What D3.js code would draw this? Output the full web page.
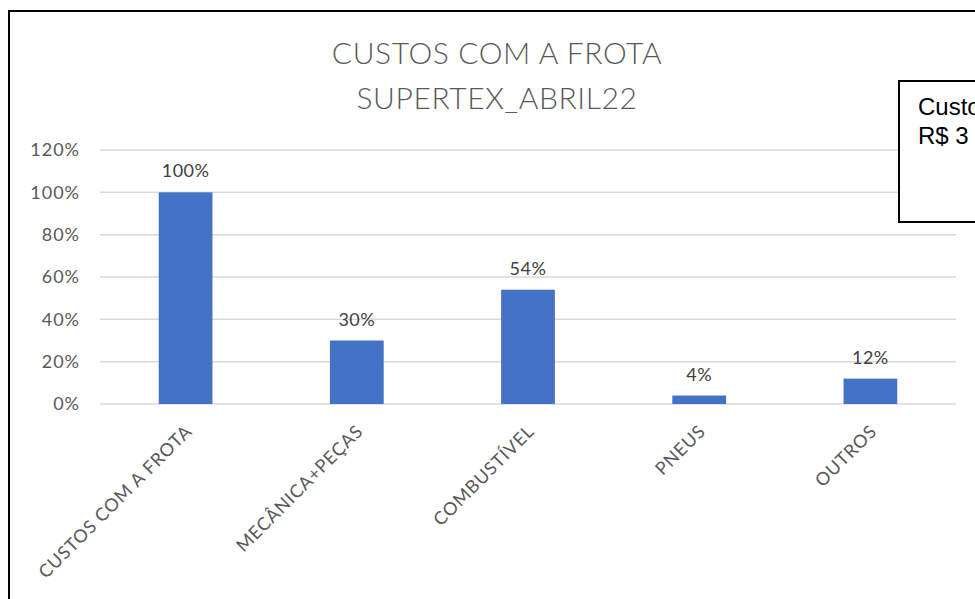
<!DOCTYPE html>
<html>
<head>
  <meta charset="utf-8">
  <title>Custos com a frota</title>
  <script src="https://d3js.org/d3.v7.min.js"></script>
  <style>
    body { margin: 0; background: #fff; }
    svg { display: block; font-family: Lato, "Open Sans", sans-serif; }
  </style>
</head>
<body>
  <script>
    // Data
    var categorias = ["CUSTOS COM A FROTA", "MECÂNICA+PEÇAS", "COMBUSTÍVEL", "PNEUS", "OUTROS"];
    var valores = [1.00, 0.30, 0.54, 0.04, 0.12];
    var ticksY = [0, 0.2, 0.4, 0.6, 0.8, 1.0, 1.2];
    var titulo = ["CUSTOS COM A FROTA", "SUPERTEX_ABRIL22"];
    var caixaTexto = ["Custos com a frota", "R$ 3"];

    var W = 975, H = 599;
    var svg = d3.select("body").append("svg")
      .attr("width", W)
      .attr("height", H);

    // chart frame
    svg.append("rect")
      .attr("x", 9).attr("y", 11)
      .attr("width", 990).attr("height", 620)
      .attr("fill", "#fff")
      .attr("stroke", "#000")
      .attr("stroke-width", 2);

    var x = d3.scaleBand()
      .domain(categorias)
      .range([100, 956])
      .paddingInner(0.686)
      .paddingOuter(0.343);

    var y = d3.scaleLinear()
      .domain([0, 1.2])
      .range([404, 150]);

    // gridlines
    svg.append("g")
      .selectAll("line")
      .data(ticksY)
      .enter().append("line")
      .attr("x1", 100).attr("x2", 956)
      .attr("y1", function(d) { return y(d); })
      .attr("y2", function(d) { return y(d); })
      .attr("stroke", "#d9d9d9")
      .attr("stroke-width", 1.5);

    // y tick labels
    svg.append("g")
      .selectAll("text")
      .data(ticksY)
      .enter().append("text")
      .attr("x", 80)
      .attr("y", function(d) { return y(d); })
      .attr("dy", "0.35em")
      .attr("text-anchor", "end")
      .attr("fill", "#595959")
      .style("font-size", "18px")
      .style("letter-spacing", "1px")
      .text(d3.format(".0%"));

    // bars
    svg.append("g")
      .selectAll("rect")
      .data(valores)
      .enter().append("rect")
      .attr("x", function(d, i) { return x(categorias[i]); })
      .attr("y", function(d) { return y(d); })
      .attr("width", x.bandwidth())
      .attr("height", function(d) { return y(0) - y(d); })
      .attr("fill", "#4472c4");

    // data labels
    svg.append("g")
      .selectAll("text")
      .data(valores)
      .enter().append("text")
      .attr("x", function(d, i) { return x(categorias[i]) + x.bandwidth() / 2; })
      .attr("y", function(d) { return y(d) - 15; })
      .attr("text-anchor", "middle")
      .attr("fill", "#404040")
      .style("font-size", "18px")
      .style("letter-spacing", "0.5px")
      .text(d3.format(".0%"));

    // category labels, rotated
    svg.append("g")
      .selectAll("text")
      .data(categorias)
      .enter().append("text")
      .attr("transform", function(d) {
        return "translate(" + (x(d) + x.bandwidth() / 2 + 3) + ",428) rotate(-45)";
      })
      .attr("text-anchor", "end")
      .attr("dy", "0.35em")
      .attr("fill", "#595959")
      .style("font-size", "18px")
      .style("letter-spacing", "0.8px")
      .text(function(d) { return d; });

    // title
    svg.append("g")
      .selectAll("text")
      .data(titulo)
      .enter().append("text")
      .attr("x", 497)
      .attr("y", function(d, i) { return 64 + i * 45; })
      .attr("text-anchor", "middle")
      .attr("fill", "#595959")
      .style("font-size", "30px")
      .style("font-weight", 300)
      .style("letter-spacing", "0.6px")
      .text(function(d) { return d; });

    // text box on the right
    svg.append("rect")
      .attr("x", 899).attr("y", 81)
      .attr("width", 120).attr("height", 141)
      .attr("fill", "#fff")
      .attr("stroke", "#000")
      .attr("stroke-width", 2);

    svg.append("g")
      .selectAll("text")
      .data(caixaTexto)
      .enter().append("text")
      .attr("x", 918)
      .attr("y", function(d, i) { return 115 + i * 29; })
      .attr("fill", "#000")
      .style("font-family", "'Liberation Sans', Arial, sans-serif")
      .style("font-size", "24px")
      .text(function(d) { return d; });
  </script>
</body>
</html>
